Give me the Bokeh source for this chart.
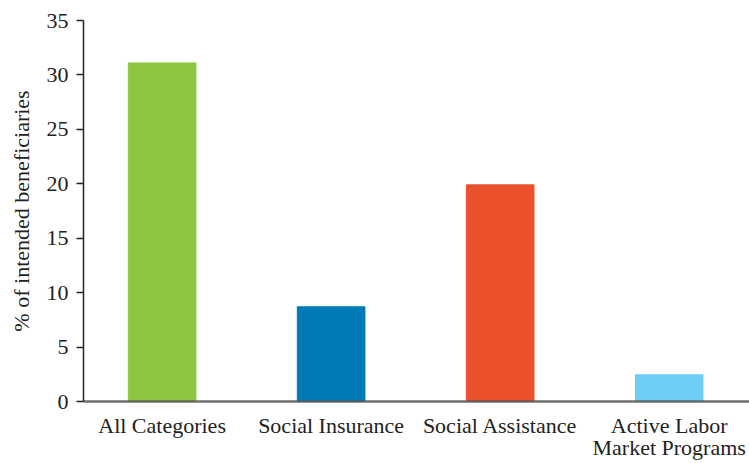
from bokeh.plotting import figure
from bokeh.models import Range1d, FixedTicker, ColumnDataSource
from bokeh.embed import file_html
from bokeh.resources import INLINE

categories = ["All Categories", "Social Insurance", "Social Assistance", "Active Labor\nMarket Programs"]
values = [31.1, 8.7, 19.9, 2.45]
colors = ["#8DC63F", "#007AB5", "#E9502B", "#6CCEF5"]
y_ticks = [0, 5, 10, 15, 20, 25, 30, 35]

FONT = "Liberation Serif"

xs = list(range(len(categories)))
src = ColumnDataSource(dict(x=xs, top=values, color=colors))

p = figure(width=749, height=463, output_backend="svg", toolbar_location=None,
           x_range=Range1d(-0.465, 3.475), y_range=Range1d(0, 35),
           min_border_left=83, min_border_right=0, min_border_top=20, min_border_bottom=60)

p.vbar(x="x", top="top", bottom=0, width=0.40, color="color", source=src)

p.xgrid.visible = False
p.ygrid.visible = False
p.outline_line_color = None
p.background_fill_color = "white"
p.border_fill_color = "white"

p.xaxis.ticker = FixedTicker(ticks=xs)
p.xaxis.major_label_overrides = {i: c for i, c in zip(xs, categories)}
p.xaxis.major_tick_line_color = None
p.xaxis.minor_tick_line_color = None
p.xaxis.axis_line_color = "#555555"
p.xaxis.axis_line_alpha = 0.85
p.xaxis.axis_line_width = 2.5
p.xaxis.major_label_text_font = FONT
p.xaxis.major_label_text_font_size = "22px"
p.xaxis.major_label_text_line_height = 0.9
p.xaxis.major_label_text_color = "#222222"
p.xaxis.major_label_standoff = 5

p.yaxis.ticker = FixedTicker(ticks=y_ticks)
p.yaxis.minor_tick_line_color = None
p.yaxis.major_tick_out = 7
p.yaxis.major_tick_in = 0
p.yaxis.major_tick_line_color = "#222222"
p.yaxis.major_tick_line_width = 1.5
p.yaxis.axis_line_color = "#222222"
p.yaxis.axis_line_width = 1.5
p.yaxis.major_label_text_font = FONT
p.yaxis.major_label_text_font_size = "22px"
p.yaxis.major_label_text_color = "#222222"
p.yaxis.major_label_standoff = 8
p.yaxis.axis_label = "% of intended beneficiaries"
p.yaxis.axis_label_text_font = FONT
p.yaxis.axis_label_text_font_size = "22px"
p.yaxis.axis_label_text_font_style = "normal"
p.yaxis.axis_label_text_color = "#222222"
p.yaxis.axis_label_standoff = 10

open("out.html", "w").write(file_html(p, INLINE))
